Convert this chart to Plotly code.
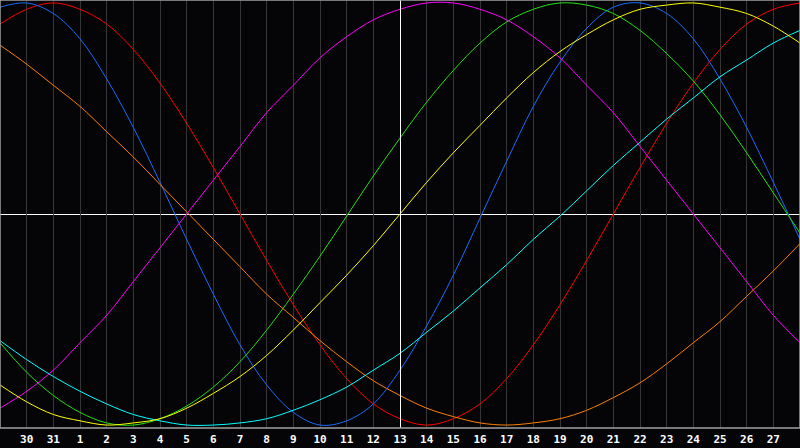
import plotly.graph_objects as go

# Days shown (previous month 29..31, then 1..28); today is "13"
days = ["29", "30", "31"] + [str(d) for d in range(1, 29)]
tick_days = days[1:-1]
today = "13"

# Cycle values (percent), one per day
cycle_red = [90, 97, 100, 97, 90, 78, 62, 43, 22, 0, -22, -43, -62, -78, -90, -97,
             -100, -97, -90, -78, -62, -43, -22, 0, 22, 43, 62, 78, 90, 97, 100]
cycle_blue = [98, 100, 95, 83, 64, 41, 15, -12, -38, -62, -81, -94, -100, -98, -90, -74,
              -53, -29, -2, 25, 51, 72, 88, 98, 100, 95, 83, 64, 41, 15, -12]
cycle_green = [-61, -75, -86, -94, -99, -100, -97, -91, -82, -70, -55, -38, -20, -1, 18, 36,
               53, 68, 81, 91, 97, 100, 99, 95, 87, 76, 63, 47, 29, 10, -9]
cycle_yellow = [-81, -89, -95, -98, -100, -99, -97, -92, -85, -77, -67, -55, -42, -29, -15, 0,
                15, 29, 42, 55, 67, 77, 85, 92, 97, 99, 100, 98, 95, 89, 81]
cycle_magenta = [-92, -84, -74, -61, -48, -32, -16, 0, 16, 32, 48, 61, 74, 84, 92, 97,
                 100, 100, 97, 92, 84, 74, 61, 48, 32, 16, 0, -16, -32, -48, -61]
cycle_orange = [80, 71, 61, 51, 39, 27, 14, 1, -12, -25, -38, -49, -60, -70, -79, -86,
                -92, -96, -99, -100, -99, -97, -93, -87, -80, -71, -61, -51, -39, -27, -14]
cycle_cyan = [-60, -69, -77, -84, -90, -95, -98, -100, -100, -99, -97, -93, -88, -82, -74, -66,
              -56, -46, -35, -24, -12, -1, 11, 23, 34, 45, 55, 65, 73, 81, 87]

series = [
    (cycle_red, "#ff0000"),
    (cycle_blue, "#1a6cff"),
    (cycle_green, "#22e011"),
    (cycle_orange, "#ff8000"),
    (cycle_cyan, "#00ffff"),
    (cycle_magenta, "#ff00ff"),
    (cycle_yellow, "#ffff00"),
]

Y_MAX = 101.4

fig = go.Figure()
for vals, col in series:
    fig.add_trace(go.Scatter(
        x=days, y=vals, mode="lines",
        line=dict(color=col, width=1, shape="spline", smoothing=1.0),
        hoverinfo="skip", showlegend=False,
    ))

today_frac = days.index(today) / (len(days) - 1)
# half-pixel nudges so the 1px guide lines land on whole pixels
half_px_dom_x = 0.5 / 800
half_px_y = 0.5 * (2 * Y_MAX) / 428
fig.add_shape(type="line", xref="x domain", yref="y domain",
              x0=today_frac + half_px_dom_x, x1=today_frac + half_px_dom_x, y0=0, y1=1,
              line=dict(color="#ffffff", width=1), layer="above")
fig.add_shape(type="line", xref="x domain", yref="y", x0=0, x1=1,
              y0=-half_px_y, y1=-half_px_y,
              line=dict(color="#ffffff", width=1), layer="below")
# frame
fig.add_shape(type="rect", xref="paper", yref="paper", x0=0, x1=1, y0=0, y1=1,
              line=dict(color="#a0a0a0", width=1.5), layer="above")

fig.update_layout(
    width=800, height=448,
    margin=dict(l=0, r=0, t=0, b=20, autoexpand=False),
    paper_bgcolor="#050507",
    plot_bgcolor="#050507",
    showlegend=False,
    hovermode=False,
    xaxis=dict(
        type="category", categoryorder="array", categoryarray=days,
        range=[0, len(days) - 1],
        tickmode="array", tickvals=tick_days, ticktext=tick_days,
        showgrid=True, gridcolor="#363636", gridwidth=1,
        zeroline=False, showline=False, ticks="",
        ticklabelstandoff=3,
        tickfont=dict(family="DejaVu Sans Mono", size=11, color="#ffffff", weight="bold"),
        fixedrange=True,
    ),
    yaxis=dict(
        range=[-Y_MAX, Y_MAX], showgrid=False, zeroline=False,
        showticklabels=False, ticks="", fixedrange=True,
    ),
)

fig.write_html(
    "out.html",
    config={"displayModeBar": False},
    post_script="document.body.style.margin='0';document.body.style.background='#050507';",
)
